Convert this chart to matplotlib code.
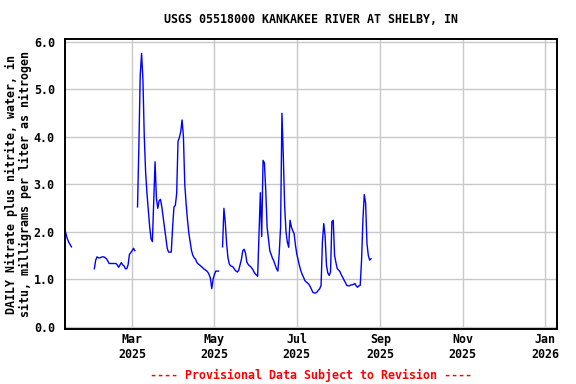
import numpy as np
import pandas as pd
import matplotlib
matplotlib.use("Agg")
import matplotlib.pyplot as plt
import matplotlib.dates as mdates

title = "USGS 05518000 KANKAKEE RIVER AT SHELBY, IN"
ylabel = "DAILY Nitrate plus nitrite, water, in\nsitu, milligrams per liter as nitrogen"
footer = "---- Provisional Data Subject to Revision ----"

# Daily values, segments separated by missing days
seg1_start = "2025-01-10"
seg1_values = [2.07, 1.95, 1.85, 1.78, 1.73, 1.68]

seg2_start = "2025-02-01"
seg2_values = [1.22, 1.40, 1.47, 1.45, 1.45, 1.46, 1.47, 1.47, 1.45, 1.43,
               1.38, 1.33, 1.33, 1.33, 1.33, 1.33, 1.33, 1.30, 1.25, 1.30,
               1.35, 1.30, 1.28, 1.22, 1.22, 1.30, 1.52, 1.56, 1.60, 1.65,
               1.60]

seg3_start = "2025-03-05"
seg3_values = [2.52, 3.80, 5.29, 5.75, 5.20, 4.00, 3.25, 2.80, 2.45, 2.10,
               1.85, 1.79, 2.60, 3.47, 2.70, 2.49, 2.65, 2.68, 2.52, 2.30,
               2.07, 1.86, 1.65, 1.57, 1.57, 1.57, 2.10, 2.52, 2.55, 2.80,
               3.90, 3.98, 4.10, 4.35, 4.00, 3.00, 2.59, 2.25, 1.97, 1.79,
               1.60, 1.50, 1.45, 1.42, 1.35, 1.32, 1.30, 1.27, 1.25, 1.22,
               1.20, 1.18, 1.15, 1.10, 1.02, 0.80, 1.00, 1.10, 1.17, 1.17,
               1.17]

seg4_start = "2025-05-07"
seg4_values = [1.68, 2.49, 2.20, 1.75, 1.45, 1.32, 1.28, 1.27, 1.25, 1.20,
               1.17, 1.15, 1.19, 1.31, 1.42, 1.60, 1.63, 1.55, 1.36, 1.31,
               1.28, 1.26, 1.22, 1.17, 1.12, 1.09, 1.06, 1.96, 2.82, 1.90,
               3.50, 3.45, 2.87, 2.10, 1.85, 1.60, 1.52, 1.44, 1.38, 1.30,
               1.22, 1.17, 1.55, 2.10, 4.49, 3.60, 2.55, 2.00, 1.78, 1.67,
               2.24, 2.10, 2.02, 1.96, 1.72, 1.53, 1.40, 1.28, 1.18, 1.10,
               1.04, 0.97, 0.94, 0.92, 0.89, 0.84, 0.78, 0.72, 0.71, 0.71,
               0.73, 0.77, 0.80, 0.87, 1.79, 2.17, 1.90, 1.29, 1.13, 1.08,
               1.15, 2.21, 2.24, 1.50, 1.35, 1.22, 1.19, 1.16, 1.09, 1.04,
               0.98, 0.93, 0.87, 0.86, 0.86, 0.88, 0.88, 0.89, 0.91, 0.86,
               0.83, 0.86, 0.87, 1.40, 2.25, 2.78, 2.60, 1.75, 1.50, 1.40,
               1.43]

segments = [(seg1_start, seg1_values), (seg2_start, seg2_values),
            (seg3_start, seg3_values), (seg4_start, seg4_values)]

series = []
for start, vals in segments:
    idx = pd.date_range(start, periods=len(vals), freq="D")
    series.append(pd.Series(vals, index=idx))
s = pd.concat(series)
full_idx = pd.date_range(s.index.min(), s.index.max(), freq="D")
s = s.reindex(full_idx)

xtick_dates = ["2025-03-01", "2025-05-01", "2025-07-01", "2025-09-01", "2025-11-01", "2026-01-01"]
xtick_labels = ["Mar\n2025", "May\n2025", "Jul\n2025", "Sep\n2025", "Nov\n2025", "Jan\n2026"]
yticks = [0.0, 1.0, 2.0, 3.0, 4.0, 5.0, 6.0]

font = {"family": "DejaVu Sans Mono", "weight": "bold", "size": 8.4}

fig = plt.figure(figsize=(5.76, 3.84), dpi=100)
ax = fig.add_axes([0.112, 0.143, 0.855, 0.755])

ax.plot(s.index, s.values, color="#0000ff", lw=1.0)

x0 = pd.Timestamp("2025-01-01") + pd.Timedelta(days=8.9)
x1 = pd.Timestamp("2025-01-01") + pd.Timedelta(days=373.8)
ax.set_xlim(x0, x1)
ax.set_ylim(-0.05, 6.05)

ax.set_xticks(pd.to_datetime(xtick_dates))
ax.set_xticklabels(xtick_labels, fontdict=font, linespacing=1.15)
ax.set_yticks(yticks)
ax.set_yticklabels([f"{v:.1f}" for v in yticks], fontdict=font)
ax.tick_params(length=0, pad=7)
ax.tick_params(axis="x", pad=3)

ax.grid(True, color="#c8c8c8", lw=1.0)
ax.set_axisbelow(True)
for sp in ax.spines.values():
    sp.set_color("black")
    sp.set_linewidth(1.4)

fig.text(0.54, 0.95, title, ha="center", va="center", **font)
fig.text(0.032, 0.52, ylabel, ha="center", va="center", rotation=90,
         linespacing=1.15, **font)
fig.text(0.54, 0.023, footer, ha="center", va="center", color="red", **font)

fig.savefig("out.png", dpi=100)
